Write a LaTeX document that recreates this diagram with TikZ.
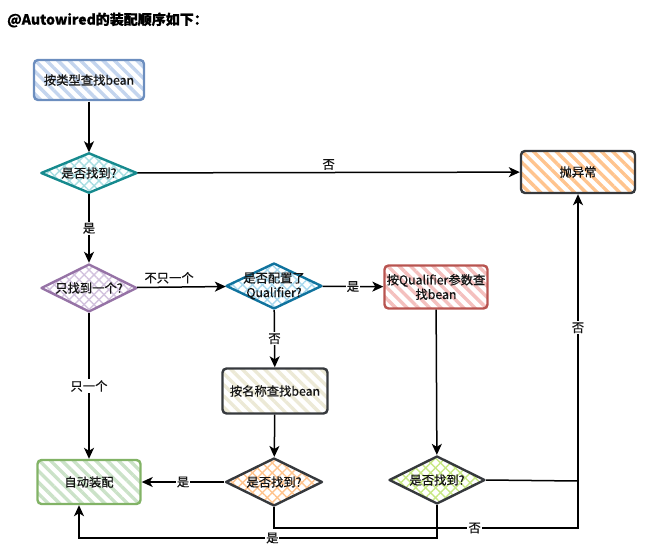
\documentclass[tikz,border=0pt]{standalone}
\usepackage{fontspec}
\setmainfont{Noto Sans CJK SC}[FakeBold=0.6]
\usetikzlibrary{shapes.geometric,patterns.meta,arrows.meta}
\definecolor{blueS}{HTML}{6C8EBF}\definecolor{blueF}{HTML}{C4D5EE}
\definecolor{tealS}{HTML}{168A8E}\definecolor{tealF}{HTML}{A8DEE2}
\definecolor{purS}{HTML}{9673A6}\definecolor{purF}{HTML}{D2C2DE}
\definecolor{cyanS}{HTML}{10739E}\definecolor{cyanF}{HTML}{A8D8EE}
\definecolor{redS}{HTML}{B85450}\definecolor{redF}{HTML}{F4C0BE}
\definecolor{darkS}{HTML}{36393D}
\definecolor{orF}{HTML}{FFC48E}
\definecolor{ylF}{HTML}{ECE9D6}
\definecolor{grS}{HTML}{82B366}\definecolor{grF}{HTML}{CBE2C8}
\definecolor{lgF}{HTML}{C8E885}
\definecolor{txt}{HTML}{141414}
\begin{document}
\begin{tikzpicture}[x=1pt,y=-1pt,
  font=\fontsize{12.3}{14.5}\selectfont,
  stripes/.style={pattern={Lines[angle=-45,distance=8pt,line width=3.4pt]},pattern color=#1},
  cross/.style={pattern={Lines[angle=45,distance=7pt,line width=1.4pt]},pattern color=#1,
     preaction={pattern={Lines[angle=-45,distance=7pt,line width=1.4pt]},pattern color=#1}},
  box/.style={draw, rounded corners=4pt, line width=2.4pt, inner sep=0pt, align=center, text=txt},
  dia/.style={diamond, draw, line width=2.4pt, inner sep=0pt, line join=round},
  dtext/.style={align=center, inner sep=0pt, text=txt},
  arr/.style={line width=1.5pt, -{Stealth[length=11pt,width=10pt,inset=3pt]}},
  ln/.style={line width=1.5pt},
  lab/.style={fill=white, inner sep=1pt, text=txt}]
\useasboundingbox (0,0) rectangle (656,557);
\node[anchor=west, inner sep=0pt, font=\fontsize{14}{16}\bfseries] (title) at (7,20) {@Autowired的装配顺序如下：};

\node[box, draw=blueS, stripes=blueF, minimum width=110pt, minimum height=40pt] (b1) at (89,80) {按类型查找bean};
\node[dia, draw=tealS, cross=tealF, minimum width=96pt, minimum height=40pt] (d1) at (89,173) {};
\node[dtext] (d1t) at (d1) {是否找到?};
\node[box, draw=darkS, stripes=orF, minimum width=114pt, minimum height=42pt] (exc) at (578,172) {抛异常};
\node[dia, draw=purS, cross=purF, minimum width=96pt, minimum height=48pt] (d2) at (89,288) {};
\node[dtext] (d2t) at (d2) {只找到一个?};
\node[dia, draw=cyanS, cross=cyanF, minimum width=96pt, minimum height=46pt] (d3) at (274,286) {};
\node[dtext] (d3t) at (d3) {是否配置了\\Qualifier?};
\node[box, draw=redS, stripes=redF, minimum width=103pt, minimum height=43pt] (q) at (436,287) {按Qualifier参数查\\找bean};
\node[box, draw=darkS, stripes=ylF, minimum width=105pt, minimum height=45pt] (n) at (275,391) {按名称查找bean};
\node[box, draw=grS, stripes=grF, minimum width=103pt, minimum height=44pt] (auto) at (89,482) {自动装配};
\node[dia, draw=darkS, cross=orF, minimum width=97pt, minimum height=48pt] (d4) at (274,482) {};
\node[dtext] (d4t) at (d4) {是否找到?};
\node[dia, draw=darkS, cross=lgF, minimum width=96pt, minimum height=48pt] (d5) at (437,480) {};
\node[dtext] (d5t) at (d5) {是否找到?};

\coordinate (j1) at (578,481);
\coordinate (j2) at (578,528);
\coordinate (jb) at (79,538);

\draw[arr] (b1) -- (d1);
\draw[arr] (d1) -- node[above, text=txt, inner sep=2pt] (l1) {否} (exc);
\draw[arr] (d1) -- node[lab] (l2) {是} (d2);
\draw[arr] (d2) -- node[above, pos=0.36, text=txt, inner sep=3pt] (l3) {不只一个} (d3);
\draw[arr] (d3) -- node[lab] (l4) {是} (q);
\draw[arr] (d3) -- node[lab] (l5) {否} (n);
\draw[arr] (n) -- (d4);
\draw[arr] (q) -- (d5);
\draw[arr] (d2) -- node[lab] (l6) {只一个} (auto);
\draw[arr] (d4) -- node[lab] (l7) {是} (auto);
\draw[ln] (d5.east) -- (j1);
\draw[arr] (d4.south) |- node[lab, pos=0.83] (l8) {否} (j2) -- node[lab, pos=0.6] (l9) {否} (exc.south);
\draw[arr] (d5.south) |- node[lab, pos=0.73] (l10) {是} (jb) -- (jb |- auto.south);
\end{tikzpicture}
\end{document}
